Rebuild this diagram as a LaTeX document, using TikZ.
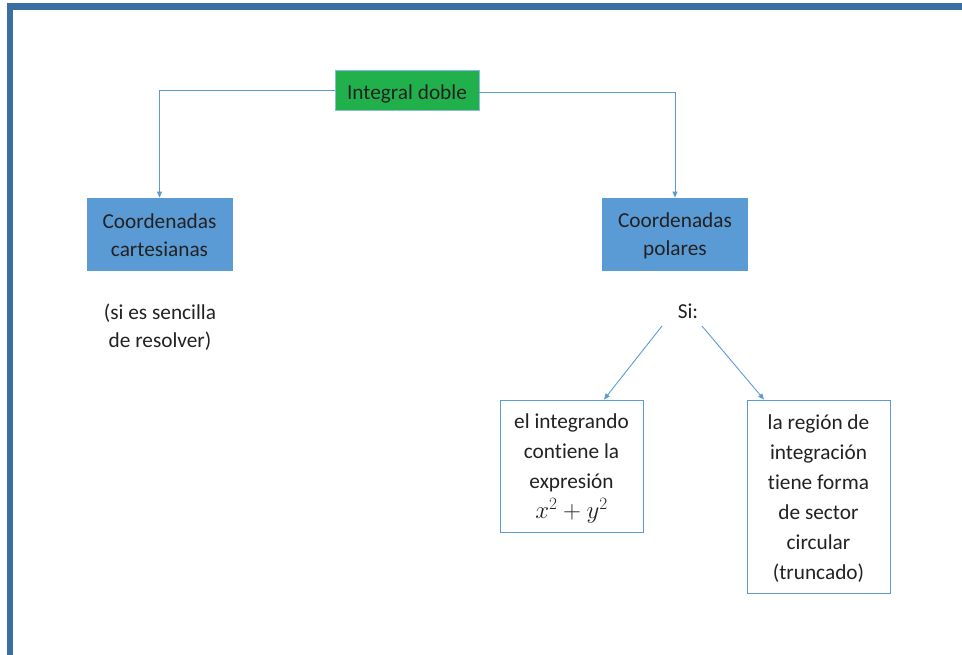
\documentclass[tikz,border=0pt]{standalone}
\usepackage{fontspec}
\setmainfont{Carlito}[Ligatures={NoCommon}]
\usetikzlibrary{arrows.meta}
\definecolor{frameblue}{HTML}{3A70A1}
\definecolor{lineblue}{HTML}{5B9BD5}
\definecolor{boxgreen}{HTML}{21B14C}
\definecolor{txt}{HTML}{222222}
\begin{document}
\begin{tikzpicture}[x=1pt,y=-1pt,
  every node/.style={text=txt,font=\fontsize{21.3}{28}\selectfont},
  filledbox/.style={draw=lineblue,line width=0.8pt,fill=lineblue,minimum width=145pt,minimum height=72pt,inner sep=0pt},
  greenbox/.style={draw=lineblue!70,line width=0.8pt,fill=boxgreen,minimum width=144pt,minimum height=40pt,inner sep=0pt},
  outlinebox/.style={draw=lineblue,line width=0.9pt,fill=white,inner sep=0pt,minimum width=143pt},
  plain/.style={align=center,inner sep=0pt},
  boxtext/.style={align=center,inner sep=0pt,font=\fontsize{21.3}{30}\selectfont},
  conn/.style={draw=lineblue,line width=0.9pt,-{Triangle[length=6pt,width=5pt]}}]
\useasboundingbox (0,0) rectangle (962,655);
\fill[frameblue] (7,3) rectangle (962,10);
\fill[frameblue] (7,3) rectangle (13,655);
\node[greenbox] (int) at (407,90) {};
\node[plain] (intt) at ([yshift=-3.5]int.center) {Integral doble};
\node[filledbox] (cart) at (159.5,234) {};
\node[plain] (cartt) at ([yshift=-1.5]cart.center) {Coordenadas\\cartesianas};
\node[filledbox] (pol) at (675,234) {};
\node[plain] (polt) at ([yshift=-1.5]pol.center) {Coordenadas\\polares};
\node[plain] (res) at (160,327) {(si es sencilla\\de resolver)};
\node[plain] (si) at (688,311) {Si:};
\node[outlinebox,minimum height=132pt] (b1) at (571.5,466) {};
\node[boxtext] (b1t) at ([yshift=-3]b1.center) {el integrando\\contiene la\\expresión\\{\fontsize{23}{30}\selectfont$x^2+y^2$}};
\node[outlinebox,minimum height=193pt] (b2) at (818.5,496.5) {};
\node[boxtext] (b2t) at ([yshift=-2.5]b2.center) {la región de\\integración\\tiene forma\\de sector\\circular\\(truncado)};
\coordinate (s1) at (662,326);
\coordinate (s2) at (702,326);
\draw[conn] (int.west) -| (cart.north);
\draw[conn] ([yshift=-2]int.east) -| (pol.north);
\draw[conn] (s1) -- (b1.north -| 604,0);
\draw[conn] (s2) -- (b2.north -| 764,0);
\end{tikzpicture}
\end{document}
